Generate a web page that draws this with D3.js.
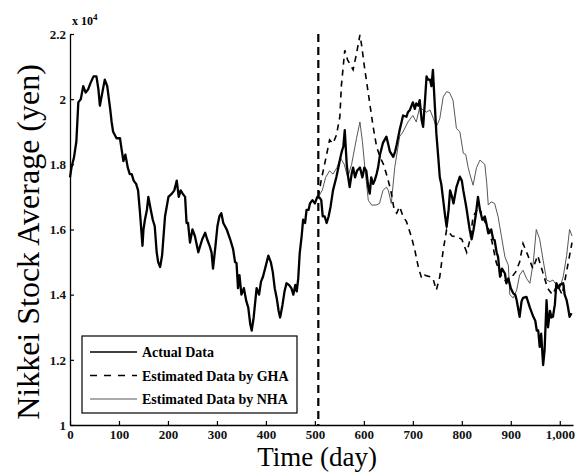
<!DOCTYPE html>
<html><head><meta charset="utf-8">
<script src="https://cdn.jsdelivr.net/npm/d3@7"></script>
<style>body{margin:0;background:#fff}svg{display:block}</style>
</head><body><svg id="c" width="581" height="475"></svg>
<script>
// Values in units of 10^4 yen
const actualDays = [0,3,8,13,17,22,27,32,37,42,48,54,58,61,66,71,76,82,85,88,95,102,106,109,113,118,122,126,130,135,139,143,148,150,153,157,160,165,169,173,177,180,184,188,194,201,208,213,218,222,226,230,235,238,241,245,250,255,262,265,270,276,280,285,289,292,297,301,305,309,313,320,327,333,337,340,343,346,350,355,360,364,368,371,375,381,386,390,394,400,405,410,414,418,422,426,429,434,438,442,447,452,456,460,463,466,469,473,476,480,483,487,490,495,500,505,510,513,516,520,524,528,532,537,544,548,551,555,558,561,565,568,571,575,578,582,586,592,597,601,605,609,612,615,619,622,626,629,633,639,646,650,653,660,664,667,673,677,680,687,690,694,700,704,707,711,714,718,721,725,728,731,735,738,741,745,748,752,755,758,762,766,769,773,776,780,783,789,796,800,803,809,813,816,820,824,829,833,837,842,847,850,854,860,864,867,871,874,878,882,888,891,895,900,905,909,912,918,922,925,932,939,946,950,953,956,959,962,966,969,973,976,980,983,986,990,993,997,1000,1007,1010,1014,1017,1020,1024];
const actualVals = [1.76,1.79,1.82,1.87,1.99,2.00,2.04,2.02,2.03,2.05,2.07,2.07,2.03,1.98,2.02,2.06,2.04,1.97,1.93,1.90,1.88,1.88,1.84,1.81,1.83,1.79,1.77,1.77,1.75,1.74,1.72,1.65,1.55,1.60,1.63,1.66,1.70,1.66,1.63,1.61,1.53,1.50,1.485,1.52,1.64,1.70,1.71,1.72,1.75,1.70,1.72,1.71,1.70,1.62,1.62,1.56,1.60,1.58,1.53,1.546,1.57,1.59,1.57,1.55,1.53,1.48,1.55,1.61,1.64,1.65,1.62,1.60,1.57,1.54,1.50,1.497,1.42,1.46,1.40,1.42,1.38,1.36,1.31,1.29,1.33,1.42,1.40,1.44,1.455,1.49,1.52,1.50,1.47,1.42,1.39,1.35,1.33,1.37,1.41,1.435,1.43,1.42,1.40,1.43,1.41,1.45,1.527,1.58,1.63,1.62,1.66,1.66,1.68,1.69,1.68,1.70,1.697,1.69,1.64,1.64,1.62,1.64,1.67,1.72,1.762,1.79,1.813,1.84,1.854,1.905,1.80,1.76,1.73,1.77,1.79,1.76,1.78,1.79,1.76,1.79,1.78,1.73,1.71,1.76,1.74,1.75,1.77,1.79,1.83,1.866,1.885,1.86,1.84,1.823,1.84,1.86,1.905,1.93,1.95,1.946,1.96,1.967,1.99,1.97,1.987,1.98,1.997,1.936,1.915,2.00,2.07,2.06,2.06,2.04,2.09,1.977,1.895,1.82,1.76,1.74,1.69,1.64,1.608,1.66,1.72,1.70,1.68,1.73,1.762,1.75,1.72,1.67,1.63,1.60,1.57,1.60,1.65,1.70,1.66,1.63,1.64,1.62,1.588,1.60,1.57,1.567,1.53,1.516,1.455,1.48,1.465,1.435,1.45,1.42,1.404,1.40,1.383,1.332,1.38,1.39,1.393,1.36,1.332,1.32,1.29,1.29,1.24,1.28,1.184,1.23,1.383,1.30,1.35,1.33,1.332,1.37,1.435,1.42,1.43,1.435,1.40,1.383,1.36,1.332,1.343];

const ghaDays = [507,513,523,530,537,544,551,554,561,567,578,585,592,595,602,605,612,619,626,633,640,648,655,662,667,673,680,687,697,704,711,718,724,735,741,748,755,762,769,780,789,800,810,817,823,835,845,855,862,870,880,890,900,910,918,925,935,945,955,965,975,985,995,1005,1015,1025];
const ghaVals = [1.70,1.752,1.823,1.875,1.864,1.89,1.946,2.04,2.15,2.12,2.09,2.14,2.197,2.17,2.09,2.06,1.987,1.915,1.854,1.823,1.80,1.76,1.72,1.66,1.65,1.67,1.64,1.624,1.578,1.537,1.486,1.45,1.46,1.455,1.45,1.414,1.455,1.537,1.60,1.58,1.578,1.57,1.53,1.57,1.64,1.67,1.63,1.60,1.56,1.50,1.46,1.44,1.45,1.47,1.50,1.557,1.52,1.48,1.52,1.47,1.42,1.40,1.43,1.40,1.48,1.56];

const nhaDays = [507,515,522,530,537,545,552,560,567,575,585,592,597,602,609,616,625,632,639,646,650,656,663,673,680,690,700,707,714,721,728,735,742,748,755,762,769,775,782,789,796,803,808,813,816,823,830,837,847,851,854,860,867,874,881,888,895,898,905,912,918,925,932,939,946,952,959,966,973,980,986,993,1000,1007,1014,1020,1025];
const nhaVals = [1.70,1.72,1.76,1.78,1.77,1.79,1.82,1.80,1.76,1.80,1.88,1.93,1.87,1.79,1.69,1.675,1.675,1.68,1.72,1.73,1.72,1.68,1.79,1.885,1.90,1.93,1.95,1.93,1.975,1.967,1.96,1.967,1.94,1.915,1.94,2.007,2.023,2.02,1.997,1.91,1.90,1.834,1.83,1.79,1.772,1.736,1.79,1.813,1.80,1.74,1.675,1.685,1.68,1.64,1.578,1.516,1.49,1.40,1.39,1.414,1.46,1.475,1.45,1.435,1.50,1.60,1.57,1.506,1.445,1.44,1.445,1.43,1.42,1.455,1.52,1.60,1.58];

const xTicks = [0,100,200,300,400,500,600,700,800,900,1000];
const yTicks = [1,1.2,1.4,1.6,1.8,2,2.2];
const yTickLabels = ["1","1.2","1.4","1.6","1.8","2","2.2"];
const splitDay = 507;
const legendLabels = ["Actual Data","Estimated Data by GHA","Estimated Data by NHA"];

const svg = d3.select("#c");
const x = d3.scaleLinear().domain([0,1027]).range([70,573]);
const y = d3.scaleLinear().domain([1,2.2]).range([425,34]);
const font = "'Liberation Serif','Times New Roman',serif";

const zip = (d,v)=>d.map((k,i)=>[k,v[i]]);
const line = d3.line().x(d=>x(d[0])).y(d=>y(d[1]));

// axes
const xa = svg.append("g").attr("transform",`translate(0,${y(1)})`)
  .call(d3.axisBottom(x).tickValues(xTicks).tickSizeInner(-4).tickSizeOuter(0).tickPadding(5));
const ya = svg.append("g").attr("transform",`translate(${x(0)},0)`)
  .call(d3.axisLeft(y).tickValues(yTicks).tickFormat((d,i)=>yTickLabels[i]).tickSizeInner(-4).tickSizeOuter(0).tickPadding(4));
[xa,ya].forEach(g=>{
  g.selectAll("path").attr("stroke","#000").attr("stroke-width",1.3);
  g.selectAll("line").attr("stroke","#000").attr("stroke-width",1.2);
  g.selectAll("text").attr("font-family",font).attr("font-size",13).attr("font-weight","bold").attr("fill","#111");
});

// exponent
const ex = svg.append("text").attr("x",x(0)+2).attr("y",25).attr("font-family",font).attr("font-size",12).attr("font-weight","bold");
ex.append("tspan").text("x 10");
ex.append("tspan").attr("dy",-5).attr("font-size",9).text("4");

// split line
svg.append("line").attr("x1",x(splitDay)).attr("x2",x(splitDay)).attr("y1",y(2.2)).attr("y2",y(1))
  .attr("stroke","#000").attr("stroke-width",2.2).attr("stroke-dasharray","8,5");

// series
svg.append("path").datum(zip(nhaDays,nhaVals)).attr("d",line).attr("fill","none").attr("stroke","#444").attr("stroke-width",0.9);
svg.append("path").datum(zip(ghaDays,ghaVals)).attr("d",line).attr("fill","none").attr("stroke","#000").attr("stroke-width",1.6).attr("stroke-dasharray","6,5");
svg.append("path").datum(zip(actualDays,actualVals)).attr("d",line).attr("fill","none").attr("stroke","#000").attr("stroke-width",2.3).attr("stroke-linejoin","round");

// legend
const lg = svg.append("g");
lg.append("rect").attr("x",82).attr("y",336).attr("width",215).attr("height",77).attr("fill","#fff").attr("stroke","#000").attr("stroke-width",1.2);
const styles = [{w:1.5,c:"#000",da:null},{w:1.4,c:"#000",da:"7,7"},{w:0.9,c:"#444",da:null}];
legendLabels.forEach((t,i)=>{
  const yy = 352 + i*23.5;
  const l = lg.append("line").attr("x1",90).attr("x2",137).attr("y1",yy).attr("y2",yy).attr("stroke",styles[i].c).attr("stroke-width",styles[i].w);
  if(styles[i].da) l.attr("stroke-dasharray",styles[i].da);
  lg.append("text").attr("x",142).attr("y",yy+5).attr("font-family",font).attr("font-size",14).attr("font-weight","bold").text(t);
});

// axis titles
svg.append("text").attr("transform",`translate(39,242) rotate(-90)`).attr("text-anchor","middle")
  .attr("font-family",font).attr("font-size",32).text("Nikkei Stock Average (yen)");
svg.append("text").attr("x",317).attr("y",466).attr("text-anchor","middle")
  .attr("font-family",font).attr("font-size",27).text("Time (day)");
</script></body></html>
